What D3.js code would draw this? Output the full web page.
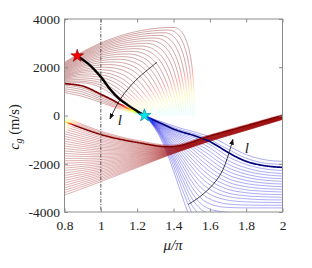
<!DOCTYPE html>
<html><head><meta charset="utf-8">
<script src="https://cdn.jsdelivr.net/npm/d3@7"></script>
<style>
body{margin:0;background:#fff}
svg{display:block}
text{font-family:"Liberation Serif","DejaVu Serif",serif;fill:#222}
</style>
</head><body>
<svg id="chart" width="312" height="268"></svg>
<script>
// ---------------- data ----------------
const xTicks = [0.8, 1, 1.2, 1.4, 1.6, 1.8, 2];
const xTickLabels = ["0.8", "1", "1.2", "1.4", "1.6", "1.8", "2"];
const yTicks = [-4000, -2000, 0, 2000, 4000];
const yTickLabels = ["-4000", "-2000", "0", "2000", "4000"];

// upper family (arcs): value at mu/pi=0.8, peak, end of the descent, slant of the tail
const upperStart = [2200, 2164, 2128, 2092, 2057, 2021, 1985, 1949, 1913, 1877, 1841, 1805, 1770, 1734, 1698, 1662, 1626, 1590, 1554, 1518, 1483, 1447, 1411, 1375];
const upperPeakX = [1.400, 1.374, 1.349, 1.323, 1.297, 1.272, 1.246, 1.220, 1.195, 1.169, 1.143, 1.117, 1.092, 1.066, 1.040, 1.015, 0.98, 0.95, 0.925, 0.90, 0.88, 0.86, 0.845, 0.83];
const upperPeakY = [3650, 3540, 3430, 3320, 3210, 3100, 2990, 2880, 2770, 2660, 2550, 2440, 2330, 2220, 2110, 2000, 1900, 1810, 1720, 1640, 1560, 1490, 1430, 1380];
const upperEndX = [1.515, 1.504, 1.493, 1.481, 1.470, 1.459, 1.448, 1.437, 1.426, 1.414, 1.403, 1.392, 1.381, 1.370, 1.359, 1.347, 1.336, 1.325, 1.314, 1.303, 1.292, 1.280, 1.269, 1.258];
const upperSlant = [0, 0.02, 0.05, 0.07, 0.10, 0.12, 0.14, 0.17, 0.19, 0.22, 0.24, 0.26, 0.29, 0.31, 0.33, 0.36, 0.38, 0.41, 0.43, 0.45, 0.48, 0.50, 0.53, 0.55];
// upper curves below the highlighted one
const upperInner = [
  [[0.8,1260],[0.9,1140],[1.0,820],[1.1,470],[1.18,180],[1.24,0]],
  [[0.8,1190],[0.9,1060],[1.0,750],[1.1,420],[1.18,160],[1.24,0]],
  [[0.8,1110],[0.9,970],[1.0,680],[1.1,370],[1.18,140],[1.24,0]],
  [[0.8,1030],[0.9,880],[1.0,610],[1.1,320],[1.18,120],[1.24,0]],
  [[0.8,950],[0.9,790],[1.0,540],[1.1,280],[1.18,100],[1.24,0]]
];
const upperHighlight = [[0.8,1320],[0.9,1220],[1.0,880],[1.07,620],[1.14,330],[1.2,120],[1.24,0]];
const blackCurve = [[0.87,2470],[0.93,2150],[1.0,1600],[1.05,1100],[1.1,700],[1.15,420],[1.2,180],[1.24,0]];
const redStar = [0.87, 2470];
const cyanStar = [1.24, 0];

// lower family (shared mu/pi grid)
const lowerX = [0.8, 1.0, 1.2, 1.4, 1.6, 1.8, 2.0];
const lowerCurves = [
  [-60, -650, -1030, -1220, -800, -380, 40],
  [-120, -700, -1070, -1250, -820, -400, 25],
  [-185, -745, -1095, -1270, -835, -415, 12],
  [-352, -855, -1155, -1300, -857, -436, -6],
  [-453, -920, -1189, -1309, -865, -443, -11],
  [-555, -985, -1224, -1319, -872, -449, -17],
  [-657, -1050, -1259, -1329, -879, -455, -22],
  [-758, -1115, -1293, -1338, -887, -462, -28],
  [-860, -1180, -1328, -1348, -894, -468, -33],
  [-962, -1245, -1363, -1358, -901, -474, -39],
  [-1063, -1310, -1397, -1367, -909, -481, -44],
  [-1165, -1375, -1432, -1377, -916, -487, -50],
  [-1267, -1440, -1467, -1387, -923, -493, -55],
  [-1368, -1505, -1501, -1396, -931, -500, -61],
  [-1470, -1570, -1536, -1406, -938, -506, -66],
  [-1572, -1635, -1571, -1416, -945, -512, -72],
  [-1673, -1700, -1605, -1425, -953, -519, -77],
  [-1775, -1765, -1640, -1435, -960, -525, -83],
  [-1877, -1830, -1675, -1445, -967, -531, -88],
  [-1978, -1895, -1709, -1454, -975, -538, -94],
  [-2080, -1960, -1744, -1464, -982, -544, -99],
  [-2182, -2025, -1779, -1474, -989, -550, -105],
  [-2283, -2090, -1813, -1483, -997, -557, -110],
  [-2385, -2155, -1848, -1493, -1004, -563, -116],
  [-2487, -2220, -1883, -1503, -1011, -569, -121],
  [-2588, -2285, -1917, -1512, -1019, -576, -127],
  [-2690, -2350, -1952, -1522, -1026, -582, -132],
  [-2792, -2415, -1987, -1532, -1033, -588, -138],
  [-2893, -2480, -2021, -1541, -1041, -595, -143],
  [-2995, -2545, -2056, -1551, -1048, -601, -149],
  [-3097, -2610, -2091, -1561, -1055, -607, -154],
  [-3198, -2675, -2125, -1570, -1063, -614, -160],
  [-3300, -2740, -2160, -1580, -1070, -620, -165]
];
const lowerHighlight = [-250, -790, -1120, -1290, -850, -430, 0];

// blue family (shared mu/pi grid, starting at the cyan star)
const blueX = [1.24, 1.3, 1.35, 1.4, 1.45, 1.5, 1.55, 1.6, 1.65, 1.7, 1.8, 1.9, 2.0];
const blueCurves = [
  [0, -170, -300, -430, -550, -650, -760, -880, -1040, -1250, -1620, -1830, -1900],
  [0, -195, -345, -495, -620, -725, -845, -980, -1200, -1400, -1770, -1970, -2030],
  [0, -240, -420, -600, -750, -880, -1030, -1200, -1450, -1700, -2030, -2210, -2280],
  [0, -255, -450, -640, -810, -960, -1140, -1340, -1610, -1860, -2170, -2340, -2400],
  [0, -270, -480, -690, -870, -1050, -1260, -1490, -1770, -2010, -2300, -2450, -2510],
  [0, -285, -510, -740, -940, -1150, -1390, -1650, -1930, -2160, -2430, -2570, -2620],
  [0, -300, -540, -790, -1010, -1260, -1530, -1810, -2090, -2310, -2560, -2680, -2730],
  [0, -315, -575, -840, -1090, -1370, -1680, -1980, -2250, -2460, -2690, -2800, -2840],
  [0, -330, -610, -900, -1180, -1500, -1840, -2150, -2410, -2610, -2820, -2910, -2950],
  [0, -345, -645, -960, -1280, -1640, -2000, -2320, -2570, -2760, -2950, -3030, -3060],
  [0, -360, -680, -1030, -1390, -1790, -2180, -2500, -2740, -2910, -3080, -3140, -3170],
  [0, -375, -720, -1100, -1510, -1950, -2360, -2680, -2910, -3060, -3200, -3260, -3280],
  [0, -390, -760, -1180, -1640, -2130, -2560, -2870, -3080, -3210, -3330, -3370, -3390],
  [0, -405, -800, -1260, -1780, -2320, -2770, -3060, -3250, -3360, -3450, -3490, -3500],
  [0, -420, -845, -1350, -1930, -2520, -2980, -3260, -3420, -3510, -3580, -3600, -3610],
  [0, -435, -890, -1450, -2090, -2730, -3200, -3460, -3600, -3670, -3710, -3720, -3720],
  [0, -450, -940, -1560, -2270, -2950, -3420, -3660, -3770, -3810, -3830, -3830, -3830],
  [0, -465, -990, -1680, -2450, -3180, -3650, -3880, -3970, -4010, -4040, -4050, -4050],
  [0, -480, -1040, -1800, -2640, -3420, -3880, -4080, -4160, -4190, -4200, -4200, -4200],
  [0, -500, -1100, -1930, -2850, -3700, -4150, -4350, -4420, -4450, -4460, -4460, -4460],
  [0, -530, -1180, -2100, -3100, -4000, -4500, -4700, -4780, -4800, -4800, -4800, -4800],
  [0, -570, -1280, -2300, -3400, -4400, -4900, -5100, -5150, -5150, -5150, -5150, -5150]
];
const blueHighlight = [0, -220, -390, -560, -690, -800, -930, -1080, -1300, -1530, -1900, -2080, -2150];

// arrows and their labels
const arrow1 = [[1.309, 2206], [1.193, 1464], [1.111, 722], [1.050, -144]];
const arrow2 = [[1.480, -3691], [1.546, -3361], [1.617, -2866], [1.672, -2247], [1.727, -990]];
const arrowLabels = [{x: 1.105, y: -186, t: "l"}, {x: 1.804, y: -1340, t: "l"}];
const dashX = 1.0;

// ---------------- drawing ----------------
const SERIF = "'Liberation Serif', 'DejaVu Serif', serif";
const L = 64.5, R = 282.5, T = 19, B = 212;
const svg = d3.select("#chart");
const x = d3.scaleLinear().domain([0.8, 2]).range([L, R]);
const y = d3.scaleLinear().domain([-4000, 4000]).range([B, T]);

const defs = svg.append("defs");
defs.append("clipPath").attr("id", "clip")
  .append("rect").attr("x", L).attr("y", T).attr("width", R - L).attr("height", B - T);
const marker = defs.append("marker").attr("id", "ah")
  .attr("viewBox", "0 0 10 10").attr("refX", 9).attr("refY", 5)
  .attr("markerWidth", 6).attr("markerHeight", 6).attr("markerUnits", "userSpaceOnUse")
  .attr("orient", "auto");
marker.append("path").attr("d", "M0,1 L10,5 L0,9 Z").attr("fill", "#111");

const plot = svg.append("g").attr("clip-path", "url(#clip)");

function jet(c) {
  const cl = v => Math.max(0, Math.min(1, v));
  const r = cl(1.5 - Math.abs(4 * c - 3)), g = cl(1.5 - Math.abs(4 * c - 2)), b = cl(1.5 - Math.abs(4 * c - 1));
  return [Math.round(r * 255), Math.round(g * 255), Math.round(b * 255)];
}
const clamp01 = v => Math.max(0, Math.min(1, v));

// draw a path whose colour (and opacity) varies along it
function gradPath(d, colorFn, width, opacityFn) {
  const tmp = plot.append("path").attr("d", d).attr("fill", "none").attr("stroke", "none");
  const node = tmp.node();
  const len = node.getTotalLength();
  const n = Math.max(2, Math.ceil(len / 1.0));
  const pts = [];
  for (let i = 0; i <= n; i++) {
    const p = node.getPointAtLength(len * i / n);
    pts.push([p.x, p.y]);
  }
  tmp.remove();
  let seg = [pts[0]];
  let curKey = null;
  const flush = (key) => {
    if (seg.length > 1 && key !== null) {
      const cv = key / 200;
      const c = jet(cv);
      plot.append("path").attr("d", "M" + seg.map(p => p[0].toFixed(2) + "," + p[1].toFixed(2)).join("L"))
        .attr("fill", "none").attr("stroke", `rgb(${c[0]},${c[1]},${c[2]})`)
        .attr("stroke-width", width).attr("stroke-opacity", opacityFn(cv)).attr("stroke-linejoin", "round");
    }
  };
  for (let i = 1; i <= n; i++) {
    const mx = (pts[i][0] + pts[i - 1][0]) / 2, my = (pts[i][1] + pts[i - 1][1]) / 2;
    const key = Math.round(colorFn(x.invert(mx), y.invert(my)) * 200);
    if (curKey === null) curKey = key;
    if (key !== curKey) {
      flush(curKey);
      seg = [pts[i - 1]];
      curKey = key;
    }
    seg.push(pts[i]);
  }
  flush(curKey);
}

// upper arcs
function arcPath(k) {
  const x0 = x(0.8), y0 = y(upperStart[k]);
  const xp = x(upperPeakX[k]), yp = y(upperPeakY[k]);
  const xe = x(upperEndX[k]), ye = y(0);
  const p = d3.path();
  p.moveTo(x0, y0);
  p.bezierCurveTo(x0 + (xp - x0) / 3, y0 + (yp - y0) * 2 / 3, xp - (xp - x0) / 3, yp, xp, yp);
  const a = upperSlant[k];
  p.bezierCurveTo(xp + 0.55 * (xe - xp), yp, xe - a * (xe - xp), y(upperPeakY[k] * (0.75 - 0.4 * a)), xe, ye);
  return p.toString();
}
const lineCR = d3.line().x(d => x(d[0])).y(d => y(d[1])).curve(d3.curveCatmullRom.alpha(0.5));

// pale opacity: rainbow tails fade out
const paleWarm = base => cv => base * (0.3 + 0.7 * clamp01((cv - 0.375) / 0.5));

upperStart.forEach((s, k) => {
  const Yk = 0.6 * upperPeakY[k];
  gradPath(arcPath(k), (mx, my) => 0.375 + 0.625 * clamp01(my / Yk), 0.9, paleWarm(0.4));
});
upperInner.forEach(c => {
  gradPath(lineCR(c), (mx, my) => 0.375 + 0.625 * clamp01(my / 450), 0.9, paleWarm(0.4));
});

// blue family
const lineB = d3.line().x((d, i) => x(blueX[i])).y(d => y(d)).curve(d3.curveMonotoneX);
blueCurves.forEach(c => {
  gradPath(lineB(c), (mx, my) => 0.1 + 0.275 * clamp01(1 - (mx - 1.24) / 0.05), 0.9, cv => 0.38);
});

// lower family
const lineL = d3.line().x((d, i) => x(lowerX[i])).y(d => y(d)).curve(d3.curveCatmullRom.alpha(0.5));
lowerCurves.forEach(c => {
  const w = Math.max(0, 0.12 * (1 - Math.abs(c[0]) / 700));
  gradPath(lineL(c), (mx, my) => w > 0 ? 0.5 + 0.47 * clamp01((mx - 0.8) / w) : 0.97, 0.9, cv => 0.36);
});

// highlighted curves
gradPath(lineCR(upperHighlight), (mx, my) => 0.375 + 0.625 * clamp01(my / 500), 1.7, cv => 1);
gradPath(lineB(blueHighlight), (mx, my) => 0.0 + 0.375 * clamp01(1 - (mx - 1.24) / 0.04), 1.7, cv => 1);
gradPath(lineL(lowerHighlight), (mx, my) => 0.55 + 0.45 * clamp01((mx - 0.8) / 0.05), 1.5, cv => 1);

// black curve
plot.append("path").attr("d", lineCR(blackCurve)).attr("fill", "none")
  .attr("stroke", "#000").attr("stroke-width", 2.4).attr("stroke-linecap", "round");

// dash-dot line at mu/pi = 1
plot.append("line").attr("x1", x(dashX)).attr("x2", x(dashX)).attr("y1", T).attr("y2", B)
  .attr("stroke", "#444").attr("stroke-width", 0.9).attr("stroke-dasharray", "3.5,1.5,1,1.5");

// frame
svg.append("rect").attr("x", L).attr("y", T).attr("width", R - L).attr("height", B - T)
  .attr("fill", "none").attr("stroke", "#8c8c8c").attr("stroke-width", 1);

// axes (ticks inside)
const fmtX = (d, i) => xTickLabels[i];
const fmtY = (d, i) => yTickLabels[i];
const ax = d3.axisBottom(x).tickValues(xTicks).tickFormat(fmtX).tickSizeInner(-3.5).tickSizeOuter(0).tickPadding(8);
const axT = d3.axisTop(x).tickValues(xTicks).tickFormat("").tickSizeInner(-3.5).tickSizeOuter(0);
const ay = d3.axisLeft(y).tickValues(yTicks).tickFormat(fmtY).tickSizeInner(-3.5).tickSizeOuter(0).tickPadding(4.5);
const ayR = d3.axisRight(y).tickValues(yTicks).tickFormat("").tickSizeInner(-3.5).tickSizeOuter(0);
function styleAxis(g) {
  g.attr("font-family", SERIF);
  g.select(".domain").remove();
  g.selectAll(".tick line").attr("stroke", "#8c8c8c");
  g.selectAll(".tick text").attr("font-size", 13.5).attr("font-family", SERIF).attr("fill", "#222");
}
svg.append("g").attr("transform", `translate(0,${B})`).call(ax).call(styleAxis);
svg.append("g").attr("transform", `translate(0,${T})`).call(axT).call(styleAxis);
svg.append("g").attr("transform", `translate(${L},0)`).call(ay).call(styleAxis);
svg.append("g").attr("transform", `translate(${R},0)`).call(ayR).call(styleAxis);

// stars
const star = d3.symbol().type(d3.symbolStar).size(50);
svg.append("path").attr("d", star()).attr("transform", `translate(${x(redStar[0])},${y(redStar[1])})`)
  .attr("fill", "#ff0000").attr("stroke", "#7a0000").attr("stroke-width", 0.6);
svg.append("path").attr("d", star()).attr("transform", `translate(${x(cyanStar[0])},${y(cyanStar[1])})`)
  .attr("fill", "#00e8e8").attr("stroke", "#007a8a").attr("stroke-width", 0.6);

// arrows
const lineA = d3.line().x(d => x(d[0])).y(d => y(d[1])).curve(d3.curveCatmullRom.alpha(0.5));
[arrow1, arrow2].forEach(a => {
  svg.append("path").attr("d", lineA(a)).attr("fill", "none").attr("stroke", "#111")
    .attr("stroke-width", 0.8).attr("marker-end", "url(#ah)");
});
arrowLabels.forEach(l => {
  svg.append("text").attr("x", x(l.x)).attr("y", y(l.y)).attr("text-anchor", "middle")
    .attr("dy", "0.35em").attr("font-size", 15).attr("font-style", "italic")
    .attr("font-family", SERIF).text(l.t);
});

// axis titles
svg.append("text").attr("x", 173).attr("y", 250).attr("text-anchor", "middle").attr("font-size", 15)
  .attr("font-family", SERIF).attr("font-style", "italic").text("μ/π");
const yl = svg.append("text").attr("transform", "translate(19,127) rotate(-90)").attr("text-anchor", "middle")
  .attr("font-family", SERIF).attr("font-size", 14.5);
yl.append("tspan").attr("font-style", "italic").text("c");
yl.append("tspan").attr("font-style", "italic").attr("font-size", 10).attr("dy", 3).text("g");
yl.append("tspan").attr("dy", -3).text(" (m/s)");
</script>
</body></html>
